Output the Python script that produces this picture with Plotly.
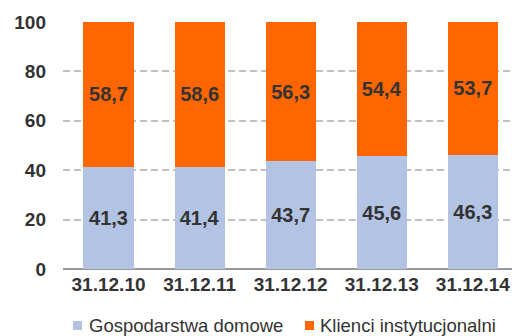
import plotly.graph_objects as go

# Structure of deposits by client type, share in %
dates = ["31.12.10", "31.12.11", "31.12.12", "31.12.13", "31.12.14"]
households = [41.3, 41.4, 43.7, 45.6, 46.3]
institutional = [58.7, 58.6, 56.3, 54.4, 53.7]
y_ticks = [0, 20, 40, 60, 80, 100]

series_names = ["Gospodarstwa domowe", "Klienci instytucjonalni"]
series_colors = ["#B3C3E3", "#FF6600"]

FONT = "Liberation Sans, Arial, sans-serif"
TEXT = "#333333"

fig = go.Figure()
for name, vals, color in zip(series_names, [households, institutional], series_colors):
    fig.add_trace(go.Bar(
        x=dates, y=vals, name=name,
        marker=dict(color=color, line=dict(width=0)),
        texttemplate="%{y:.1f}", textposition="inside",
        insidetextanchor="middle", textangle=0,
        constraintext="none",
        textfont=dict(family=FONT, size=20, color=TEXT, weight="bold"),
        showlegend=False,
    ))

# Legend drawn below the axis: colored squares with labels
W, L, T, H = 512, 63, 22, 247
def px(x):
    return (x - L) / (W - L)
def py(y):
    return (T + H - y) / H

legend_items = [(73, 87), (305, 318)]
shapes = []
annotations = []
for (mx, tx), name, color in zip(legend_items, series_names, series_colors):
    shapes.append(dict(type="rect", xref="paper", yref="paper",
                       x0=px(mx), x1=px(mx + 9), y0=py(321), y1=py(330),
                       fillcolor=color, line=dict(width=0)))
    annotations.append(dict(xref="paper", yref="paper", x=px(tx), y=py(325.5),
                            xanchor="left", yanchor="middle", showarrow=False,
                            text=name, font=dict(family=FONT, size=18.5, color=TEXT)))

fig.update_layout(
    width=W, height=336,
    margin=dict(l=L, r=0, t=T, b=336 - T - H, pad=0),
    barmode="stack", bargap=0.45,
    separators=", ",
    paper_bgcolor="white", plot_bgcolor="white",
    font=dict(family=FONT, color=TEXT),
    shapes=shapes, annotations=annotations,
    xaxis=dict(range=[-0.5, 4.43], showgrid=False, showline=False, ticks="",
               tickfont=dict(family=FONT, size=19, color=TEXT, weight="bold"),
               ticklabelstandoff=2),
    yaxis=dict(range=[0, 100], tickvals=y_ticks, showline=False, ticks="",
               showgrid=True, gridcolor="#C0C0C0", gridwidth=2, griddash="7px,4px",
               zeroline=True, zerolinecolor="#999999", zerolinewidth=2,
               tickfont=dict(family=FONT, size=19, color=TEXT, weight="bold"),
               ticklabelstandoff=16),
)

fig.write_html("out.html")
